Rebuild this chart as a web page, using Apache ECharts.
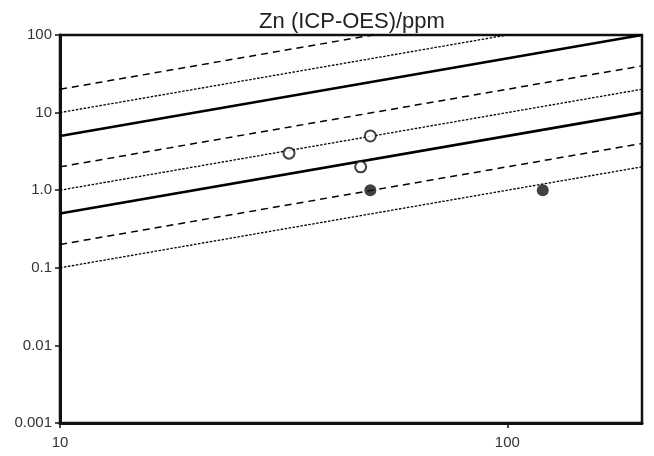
<!DOCTYPE html>
<html>
<head>
<meta charset="utf-8">
<script src="https://cdn.jsdelivr.net/npm/echarts@6/dist/echarts.min.js"></script>
<style>
  html, body { margin: 0; padding: 0; background: #fff; }
  #main { width: 654px; height: 456px; }
</style>
</head>
<body>
<div id="main"></div>
<script>
var myChart = echarts.init(document.getElementById('main'));

// ratio lines y = k * x
var solidK = [0.5, 0.05];
var dashedK = [2, 0.2, 0.02];
var dottedK = [1, 0.1, 0.01];
var lineX = [10, 200];

// measured points
var openPts = [[32.5, 3], [49.4, 5], [47, 2]];
var filledPts = [[49.4, 1], [120, 1]];

// ticks
var xTicks = [10, 100];
var xTickLabels = ['10', '100'];
var yTicks = [0.001, 0.01, 0.1, 1, 10, 100];
var yTickLabels = ['0.001', '0.01', '0.1', '1.0', '10', '100'];

function ratioLine(k, style) {
    return {
        type: 'line',
        data: lineX.map(function (x) { return [x, k * x]; }),
        symbol: 'none',
        silent: true,
        clip: true,
        lineStyle: style,
        z: 2
    };
}

var series = [];
solidK.forEach(function (k) {
    series.push(ratioLine(k, { color: '#000', width: 2.6, type: 'solid' }));
});
dashedK.forEach(function (k) {
    series.push(ratioLine(k, { color: '#000', width: 1.5, type: [7, 5] }));
});
dottedK.forEach(function (k) {
    series.push(ratioLine(k, { color: '#000', width: 1.3, type: [2.5, 1.5] }));
});
series.push({
    type: 'scatter',
    data: openPts,
    symbol: 'circle',
    symbolSize: 11,
    itemStyle: { color: '#fff', borderColor: '#111', borderWidth: 2 },
    z: 5
});
series.push({
    type: 'scatter',
    data: filledPts,
    symbol: 'circle',
    symbolSize: 12,
    itemStyle: { color: '#111' },
    z: 5
});

var option = {
    animation: false,
    backgroundColor: '#fff',
    title: {
        text: 'Zn (ICP-OES)/ppm',
        left: 347,
        top: 6,
        textAlign: 'center',
        textStyle: { fontFamily: 'Liberation Sans', fontSize: 22, fontWeight: 'normal', color: '#222' }
    },
    grid: {
        left: 60, right: 12, top: 35, bottom: 33,
        show: true, borderColor: '#111', borderWidth: 2.5, backgroundColor: 'transparent'
    },
    xAxis: {
        type: 'log',
        logBase: 10,
        min: 10,
        max: 200,
        splitLine: { show: false },
        axisLine: { show: true, onZero: false, lineStyle: { color: '#111', width: 3 } },
        axisTick: { show: true, length: 5, customValues: xTicks, lineStyle: { color: '#111', width: 1.5 } },
        axisLabel: {
            customValues: xTicks,
            margin: 12,
            fontFamily: 'Liberation Sans', fontSize: 15, color: '#333',
            formatter: function (v) {
                var i = xTicks.indexOf(Math.round(v));
                return i >= 0 ? xTickLabels[i] : '';
            }
        }
    },
    yAxis: {
        type: 'log',
        logBase: 10,
        min: 0.001,
        max: 100,
        splitLine: { show: false },
        axisLine: { show: true, onZero: false, lineStyle: { color: '#111', width: 3 } },
        axisTick: { show: true, length: 5, customValues: yTicks, lineStyle: { color: '#111', width: 1.5 } },
        axisLabel: {
            customValues: yTicks,
            margin: 8,
            fontFamily: 'Liberation Sans', fontSize: 15, color: '#333',
            formatter: function (v) {
                for (var i = 0; i < yTicks.length; i++) {
                    if (Math.abs(Math.log10(v) - Math.log10(yTicks[i])) < 1e-6) return yTickLabels[i];
                }
                return '';
            }
        }
    },
    series: series
};
myChart.setOption(option);
</script>
</body>
</html>
